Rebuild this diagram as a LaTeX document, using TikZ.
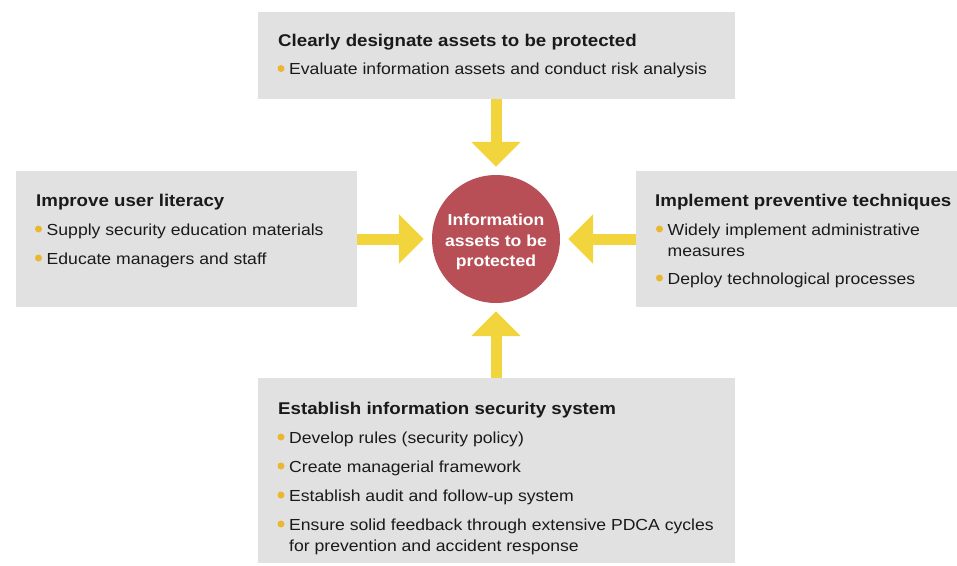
\documentclass[tikz,border=0pt]{standalone}
\usepackage{fontspec}
\setmainfont[FakeStretch=1.10]{Liberation Sans}
\usetikzlibrary{arrows.meta}
\definecolor{boxgray}{HTML}{E1E1E1}
\definecolor{redc}{HTML}{B94F56}
\definecolor{arrowy}{HTML}{F2D43D}
\definecolor{bul}{HTML}{E9B730}
\definecolor{txt}{HTML}{1A1A1A}
\begin{document}
\begin{tikzpicture}[x=1pt,y=-1pt,
  panel/.style={fill=boxgray,draw=none,inner sep=0pt,anchor=north west},
  ttl/.style={anchor=base west,inner sep=0pt,font=\fontsize{17}{20}\selectfont\bfseries,text=txt},
  body/.style={anchor=base west,inner sep=0pt,font=\fontsize{16}{21}\selectfont,text=txt},
  dot/.style={circle,fill=bul,inner sep=0pt,minimum size=7pt},
  arr/.style={draw=arrowy,line width=11pt,-{Triangle[length=25pt,width=48pt]},shorten >=8pt}]
\useasboundingbox (0,0) rectangle (957,565);
% panels
\node[panel,minimum width=477pt,minimum height=87pt] (top) at (258,12) {};
\node[panel,minimum width=341pt,minimum height=136pt] (left) at (16,171) {};
\node[panel,minimum width=321pt,minimum height=136pt] (right) at (636,171) {};
\node[panel,minimum width=477pt,minimum height=185pt] (bot) at (258,378) {};
% centre
\node[circle,fill=redc,minimum size=128pt,inner sep=0pt] (c) at (496,239) {};
\node[inner sep=0pt,text=white,align=center,font=\fontsize{16}{20.5}\selectfont\bfseries] (ct) at (496,242) {Information\\assets to be\\protected};
% arrows
\draw[arr] (top.south -| c.center) -- (c.north);
\draw[arr] (bot.north -| c.center) -- (c.south);
\draw[arr] (left.east |- c.center) -- (c.west);
\draw[arr] (right.west |- c.center) -- (c.east);
% top text
\node[ttl] (t0) at (278,46) {Clearly designate assets to be protected};
\node[dot] (td1) at (281,68.5) {};
\node[body] (t1) at (289,74.5) {Evaluate information assets and conduct risk analysis};
% left text
\node[ttl] (l0) at (36,206) {Improve user literacy};
\node[dot] (ld1) at (38.5,229) {};
\node[body] (l1) at (46.5,235) {Supply security education materials};
\node[dot] (ld2) at (38.5,258) {};
\node[body] (l2) at (46.5,264) {Educate managers and staff};
% right text
\node[ttl] (r0) at (655,206) {Implement preventive techniques};
\node[dot] (rd1) at (659.5,229) {};
\node[body] (r1) at (667.5,235) {Widely implement administrative};
\node[body] (r1b) at (667.5,256) {measures};
\node[dot] (rd2) at (659.5,278) {};
\node[body] (r2) at (667.5,284) {Deploy technological processes};
% bottom text
\node[ttl] (b0) at (278,414) {Establish information security system};
\node[dot] (bd1) at (281,437) {};
\node[body] (b1) at (289,443) {Develop rules (security policy)};
\node[dot] (bd2) at (281,466) {};
\node[body] (b2) at (289,472) {Create managerial framework};
\node[dot] (bd3) at (281,495) {};
\node[body] (b3) at (289,501) {Establish audit and follow-up system};
\node[dot] (bd4) at (281,524) {};
\node[body] (b4) at (289,530) {Ensure solid feedback through extensive PDCA cycles};
\node[body] (b4b) at (289,551) {for prevention and accident response};
\end{tikzpicture}
\end{document}
